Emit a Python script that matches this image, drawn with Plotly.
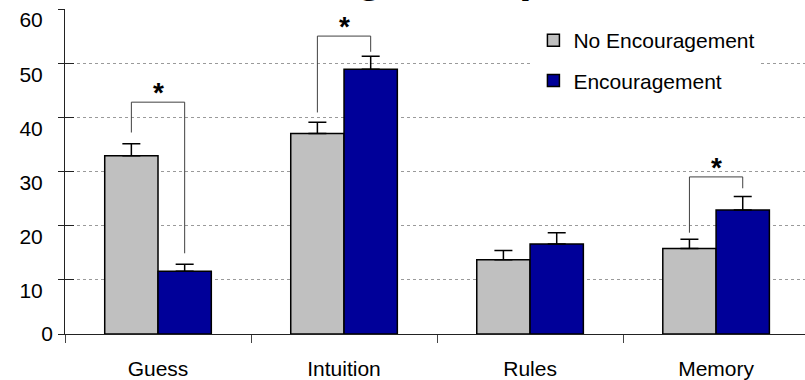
import plotly.graph_objects as go

# ---- data ----
categories = ["Guess", "Intuition", "Rules", "Memory"]
no_enc = [32.9, 37.0, 13.7, 15.8]
enc = [11.6, 48.9, 16.6, 22.9]
no_enc_err = [2.2, 2.1, 1.7, 1.7]
enc_err = [1.3, 2.4, 2.1, 2.5]

sig_index = [0, 1, 3]
sig_left = [37.2, 40.9, 18.7]
sig_top = [42.8, 55.0, 29.0]
sig_right = [14.9, 52.1, 26.9]

y_ticks = [0, 10, 20, 30, 40, 50, 60]
series_names = ["No Encouragement", "Encouragement"]

# ---- styling ----
FONT = "Liberation Sans, Arial, sans-serif"
GREY = "#C0C0C0"
BLUE = "#000099"
BARGAP = 0.427
half = (1 - BARGAP) / 4
xpos = list(range(len(categories)))
XRANGE = [-0.5, 3.478]
YRANGE = [0, 60]

fig = go.Figure()

fig.add_trace(go.Bar(
    x=xpos, y=no_enc, name=series_names[0], legendgroup="a",
    marker=dict(color=GREY, line=dict(color="black", width=1.5)),
    error_y=dict(type="data", array=no_enc_err, symmetric=False,
                 arrayminus=[0] * len(no_enc), color="black", thickness=1.5, width=9),
))
fig.add_trace(go.Bar(
    x=xpos, y=enc, name=series_names[1], legendgroup="b",
    marker=dict(color=BLUE, line=dict(color="black", width=1.5)),
    error_y=dict(type="data", array=enc_err, symmetric=False,
                 arrayminus=[0] * len(enc), color="black", thickness=1.5, width=9),
))

for i, lb, tp, rb in zip(sig_index, sig_left, sig_top, sig_right):
    fig.add_trace(go.Scatter(
        x=[i - half, i - half, i + half, i + half], y=[lb, tp, tp, rb],
        xaxis="x2", yaxis="y2",
        mode="lines", line=dict(color="#404040", width=1),
        showlegend=False, hoverinfo="skip",
    ))
    fig.add_annotation(x=i, y=tp, xref="x", yref="y", text="<b>*</b>",
                       showarrow=False, yanchor="bottom", yshift=-8,
                       font=dict(family=FONT, size=28, color="black"))

# title, mostly above the top edge as in the reference
fig.add_annotation(x=0.511, y=1, xref="paper", yref="paper", text="<b>Strategies Reported</b>",
                   showarrow=False, xanchor="center", yanchor="bottom", yshift=6,
                   font=dict(family=FONT, size=46, color="black"))

fig.update_layout(
    width=805, height=380,
    margin=dict(l=65, r=0, t=9, b=46),
    paper_bgcolor="white", plot_bgcolor="white",
    font=dict(family=FONT, size=21, color="black"),
    barmode="group", bargap=BARGAP, bargroupgap=0,
    showlegend=True,
    legend=dict(x=0.633, y=0.966, xanchor="left", yanchor="top",
                bgcolor="white", borderwidth=0,
                traceorder="grouped", tracegroupgap=10,
                font=dict(family=FONT, size=21, color="black")),
    xaxis=dict(range=XRANGE, tickvals=xpos, ticktext=categories,
               ticks="", showgrid=False, zeroline=False,
               showline=True, linecolor="#222", linewidth=1,
               ticklabelstandoff=16),
    xaxis2=dict(overlaying="x", anchor="y2", side="bottom", range=XRANGE,
                tickvals=[-0.5, 0.5, 1.5, 2.5], ticks="outside", ticklen=8,
                tickcolor="#444", showticklabels=False, showgrid=False,
                zeroline=False, showline=False),
    yaxis=dict(range=YRANGE, tickvals=y_ticks,
               ticktext=[""] + [str(v) for v in y_ticks[1:]],
               ticks="outside", ticklen=6, tickcolor="#222",
               showgrid=True, gridcolor="#9a9a9a", griddash="dot", gridwidth=1,
               zeroline=False, showline=True, linecolor="#222", linewidth=1,
               ticklabelshift=11, ticklabelstandoff=11),
    yaxis2=dict(overlaying="y", anchor="x2", side="left", range=YRANGE,
                tickvals=y_ticks, ticktext=["0"] + [""] * (len(y_ticks) - 1),
                ticks="inside", ticklen=9, tickcolor="#222",
                showgrid=False, zeroline=False, showline=False,
                showticklabels=True, ticklabelstandoff=11),
)

fig.write_html("out.html", config={"displayModeBar": False},
               post_script="document.body.style.margin='0';")
